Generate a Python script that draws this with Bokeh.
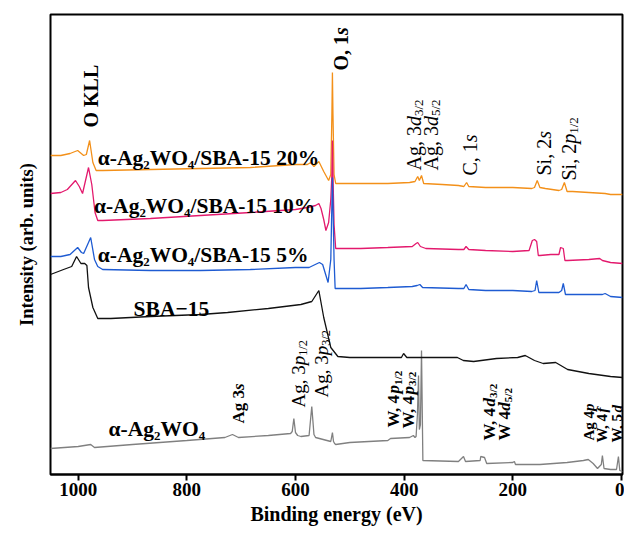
import math
from bokeh.plotting import figure
from bokeh.models import Range1d, FixedTicker, Title
from bokeh.embed import file_html
from bokeh.resources import INLINE
from bokeh.core.properties import value

# ---------------- data (binding energy in eV, intensity in arbitrary units) ----------------
orange_e = [1051, 1032, 1015, 1001, 990, 985, 979, 973, 967, 955, 867, 775, 683, 600, 578, 572, 566, 557, 548, 539,
            535, 533, 532, 531, 529, 526, 520, 480, 430, 390, 380, 375, 372, 368, 364, 330, 300, 290, 285, 281,
            250, 200, 165, 160, 155, 150, 140, 115, 110, 105, 100, 90, 60, 30, 20, -2]
orange_i = [319, 319, 321, 324, 319, 320, 334, 312, 304, 304, 305, 306, 307, 310, 310, 312, 308, 313, 303, 294,
            300, 360, 402, 360, 300, 291, 291, 291, 291, 292, 293, 298, 294, 299, 291, 290, 289, 288, 292, 288,
            287, 287, 286, 287, 294, 287, 286, 284, 285, 292, 283, 283, 282, 281, 280, 280]

pink_e = [1051, 1032, 1020, 1005, 998, 992, 981, 975, 969, 964, 955, 867, 775, 683, 600, 578, 563, 557, 553, 548,
          544, 539, 535, 533, 532, 531, 529, 526, 520, 480, 430, 385, 378, 375, 370, 360, 300, 290, 286, 281,
          250, 200, 170, 164, 160, 156, 153, 150, 130, 115, 112, 107, 104, 99, 60, 40, 35, 20, -2]
pink_i = [281, 282, 285, 294, 288, 281, 307, 290, 262, 254, 254, 256, 259, 262, 265, 267, 269, 271, 266, 255,
          244, 252, 275, 300, 334, 300, 250, 226, 226, 226, 227, 228, 231, 232, 228, 226, 225, 225, 228, 225,
          224, 223, 224, 234, 235, 233, 219, 219, 220, 220, 227, 226, 214, 214, 215, 216, 214, 212, 211]

blue_e = [1051, 1032, 1015, 1001, 994, 990, 977, 970, 964, 955, 867, 775, 683, 600, 575, 556, 550, 540, 535, 533,
          532, 531, 529, 527, 520, 480, 430, 385, 376, 371, 366, 300, 290, 286, 281, 250, 200, 165, 159, 156,
          152, 130, 115, 110, 107, 103, 60, 35, 30, 20, -2]
blue_i = [218, 218, 220, 227, 222, 221, 237, 215, 208, 205, 204, 204, 205, 207, 207, 212, 210, 192, 215, 270,
          297, 270, 215, 186, 186, 186, 187, 188, 189, 190, 187, 186, 186, 190, 185, 184, 184, 183, 184, 194,
          182, 182, 182, 184, 191, 180, 180, 180, 181, 178, 177]

sba_e = [1051, 1027, 1012, 1003, 995, 988, 984, 981, 973, 964, 940, 867, 775, 725, 650, 590, 570, 557, 548, 535,
         522, 500, 430, 405, 401, 395, 302, 291, 272, 230, 191, 177, 160, 144, 121, 99, 60, 20, -2]
sba_i = [200, 205, 208, 218, 211, 211, 209, 187, 167, 156, 156, 158, 160, 162, 166, 170, 173, 184, 157, 127,
         118, 117, 117, 117, 121, 117, 117, 114, 113, 116, 117, 119, 114, 111, 112, 105, 101, 98, 97]

agwo_e = [1051, 1000, 977, 970, 900, 800, 730, 716, 705, 650, 609, 606, 603, 600, 596, 590, 575, 570, 566, 563,
          535, 532, 530, 528, 526, 500, 430, 425, 390, 383, 380, 378, 375.5, 373.5, 372, 370, 368, 365.5, 300, 290.7,
          287, 260, 259, 252, 248, 200, 197, 195, 150, 100, 70, 61, 52, 44, 37, 35, 32, 20, 9, 5.5,
          3, -2]
agwo_i = [26, 28, 30, 27, 30, 34, 37, 40, 37, 39, 41, 43, 56, 42, 39, 38, 39, 68, 40, 37,
          33, 42, 33, 31, 30, 32, 34, 36, 37, 39, 37, 38, 60, 99, 45, 50, 124, 14, 13, 18,
          13, 14, 18, 17, 11, 12, 13, 10, 10, 12, 14, 15, 11, 6, 10, 19, 6, 5, 5, 18,
          4, 3]

x_ticks = [0, 200, 400, 600, 800, 1000]

sample_names = ["α-Ag₂WO₄/SBA-15 20%", "α-Ag₂WO₄/SBA-15 10%", "α-Ag₂WO₄/SBA-15 5%", "SBA−15", "α-Ag₂WO₄"]

# peak annotations: (segments, anchor energy)
peak_segments = [
    [("O KLL", "n")],
    [("O, 1", "n"), ("s", "i")],
    [("Ag, 3", "n"), ("d", "i"), ("3/2", "sub")],
    [("Ag, 3", "n"), ("d", "i"), ("5/2", "sub")],
    [("C, 1", "n"), ("s", "i")],
    [("Si, 2", "n"), ("s", "i")],
    [("Si, 2", "n"), ("p", "i"), ("1/2", "sub")],
    [("Ag 3", "n"), ("s", "i")],
    [("Ag, 3", "n"), ("p", "i"), ("1/2", "sub")],
    [("Ag, 3", "n"), ("p", "i"), ("3/2", "sub")],
    [("W, 4", "n"), ("p", "i"), ("1/2", "sub")],
    [("W, 4", "n"), ("p", "i"), ("3/2", "sub")],
    [("W, 4", "n"), ("d", "i"), ("3/2", "sub")],
    [("W 4", "n"), ("d", "i"), ("5/2", "sub")],
    [("Ag 4", "n"), ("p", "i")],
    [("W, 4", "n"), ("f", "i")],
    [("W, 5", "n"), ("d", "i")],
]
peak_label_e = [976, 517, 381, 351, 278, 142, 96, 705, 594, 552, 419, 392, 243, 215, 59, 35, 9]

# ---------------- layout / style ----------------
FONT = "Liberation Serif"
X0, X1 = 1051, -2
FIG_W, FIG_H = 624, 532
BL, BR, BT, BB = 50, 2, 14, 58
frame_w = FIG_W - BL - BR
px_per_ev = frame_w / (X0 - X1)

p = figure(width=FIG_W, height=FIG_H, output_backend="svg", toolbar_location=None,
           x_range=Range1d(X0, X1), y_range=Range1d(0, 460),
           min_border_left=BL, min_border_right=BR, min_border_top=BT, min_border_bottom=BB)
p.background_fill_color = "white"
p.border_fill_color = "white"
p.xgrid.visible = False
p.ygrid.visible = False
p.outline_line_color = "black"
p.outline_line_width = 2
p.yaxis.visible = False

xa = p.xaxis[0]
xa.ticker = FixedTicker(ticks=x_ticks, minor_ticks=[])
xa.major_tick_out = 6
xa.major_tick_in = 0
xa.major_tick_line_width = 2
xa.axis_line_width = 2
xa.major_label_text_font = FONT
xa.major_label_text_font_size = "19px"
xa.major_label_text_font_style = "bold"
xa.major_label_text_color = "black"
xa.major_label_standoff = 2
xa.axis_label = "Binding energy (eV)"
xa.axis_label_text_font = FONT
xa.axis_label_text_font_size = "20px"
xa.axis_label_text_font_style = "bold"
xa.axis_label_text_color = "black"
xa.axis_label_standoff = 4

# y-axis title, placed left of the frame
p.add_layout(Title(text="Intensity (arb. units)", align="center", offset=28, standoff=27,
                   text_font=FONT, text_font_size="18.5px", text_font_style="bold",
                   text_color="black"), "left")

# spectra
p.line(agwo_e, agwo_i, line_color="#808080", line_width=1.3)
p.line(sba_e, sba_i, line_color="#111111", line_width=1.3)
p.line(orange_e, orange_i, line_color="#F39019", line_width=1.3)
p.line(pink_e, pink_i, line_color="#E3196D", line_width=1.3)
p.line(blue_e, blue_i, line_color="#1E5BD2", line_width=1.3)

# sample labels
sample_x = [964, 971, 964, 898, 944]
sample_y = [317, 269, 220, 166, 46]
for name, sx, sy in zip(sample_names, sample_x, sample_y):
    p.text(x=[sx], y=[sy], text=[name], text_font=value(FONT), text_font_size="21.5px",
           text_font_style="bold", text_align="left", text_baseline="alphabetic", text_color="black")

# Times-like advance widths (per 1000 em)
W_REG = {' ': 250, ',': 250, '/': 278, '.': 250, 'A': 722, 'C': 667, 'K': 722, 'L': 611, 'O': 722,
         'S': 556, 'W': 944, 'g': 500, 'i': 278, 's': 389, 'd': 500, 'p': 500, 'f': 333}
W_BOLD = {' ': 250, ',': 250, '/': 278, '.': 250, 'A': 722, 'C': 722, 'K': 778, 'L': 667, 'O': 778,
          'S': 556, 'W': 1000, 'g': 500, 'i': 278, 's': 389, 'd': 556, 'p': 556, 'f': 333}
W_IT = {'d': 500, 'p': 500, 's': 389, 'f': 278}


def tw(s, size, bold, italic):
    tab = W_IT if italic else (W_BOLD if bold else W_REG)
    return sum(tab.get(ch, 500) for ch in s) / 1000.0 * size


# (y start, font size, bold)
peak_layout = [(347, 20, True), (404, 20, True), (304, 20, False), (304, 20, False), (299, 20, False),
               (299, 20, False), (294, 20, False), (51, 17, True), (67, 19, False), (77, 19, False),
               (47, 17, True), (46, 17, True), (34, 17, True), (34, 17, True), (34, 15, True),
               (32, 15, True), (32, 15, True)]

for segs, e0, (y0, size, bold) in zip(peak_segments, peak_label_e, peak_layout):
    t = 0.0
    for txt, kind in segs:
        fs = size * 0.65 if kind == "sub" else size
        italic = kind == "i"
        dx = 0.22 * size if kind == "sub" else 0.0
        style = ("bold " if bold else "") + ("italic" if italic else "")
        style = style.strip() or "normal"
        p.text(x=[e0 - dx / px_per_ev], y=[y0 + t], text=[txt], angle=math.pi / 2,
               text_font=value(FONT), text_font_size=f"{fs:.1f}px", text_font_style=style,
               text_align="left", text_baseline="alphabetic", text_color="black")
        t += tw(txt, fs, bold, italic)

open("out.html", "w").write(file_html(p, INLINE))
